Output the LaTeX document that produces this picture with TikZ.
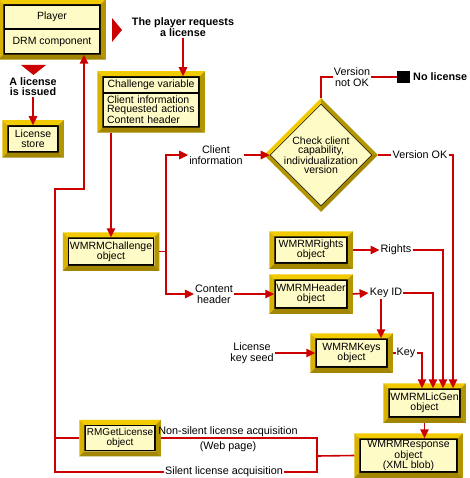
\documentclass[tikz,border=0pt]{standalone}
\usepackage{fontspec}
\setmainfont{Liberation Sans}
\usetikzlibrary{arrows.meta,calc,shapes.geometric}

\definecolor{wred}{HTML}{CC0000}
\definecolor{paper}{HTML}{FFFBC6}
\definecolor{frtop}{HTML}{F2CA00}
\definecolor{frleft}{HTML}{D9B300}
\definecolor{frright}{HTML}{B39500}
\definecolor{frbot}{HTML}{A38600}

% gold bevel round one box (or a stack of two)
\newcommand{\bevel}[2]{%
  \coordinate (o1) at (#1.north west);
  \coordinate (o2) at (#2.south east);
  \coordinate (i1) at ($(o1)+(5,5)$);
  \coordinate (i2) at ($(o2)+(-5,-5)$);
  \fill[frtop] (o1) -- (o1 -| o2) -- (i1 -| i2) -- (i1) -- cycle;
  \fill[frleft] (o1) -- (i1) -- (i1 |- i2) -- (o1 |- o2) -- cycle;
  \fill[frright] (o1 -| o2) -- (o2) -- (i2) -- (i1 -| i2) -- cycle;
  \fill[frbot] (o1 |- o2) -- (i1 |- i2) -- (i2) -- (o2) -- cycle;
}

\begin{document}
\begin{tikzpicture}[x=1pt,y=-1pt,
  >={Triangle[length=9pt,width=8.5pt]},
  txt/.style={font=\fontsize{10.8}{11}\selectfont,align=center,inner sep=1pt},
  note/.style={font=\fontsize{10.8}{10}\selectfont\bfseries,align=center,inner sep=1pt},
  obj/.style={draw=black,fill=paper,line width=1.5pt,inner sep=0pt,outer sep=5.75pt,
    align=center,font=\fontsize{10.5}{10}\selectfont},
  dia/.style={diamond,draw=black,fill=paper,line width=0.6pt,inner sep=0pt,
    minimum width=102pt,minimum height=102pt},
  flow/.style={wred,line width=1.6pt},
  into/.style={flow,->,shorten >=-5pt}]

\useasboundingbox (0,0) rectangle (469,478);
\fill[white] (0,0) rectangle (469,478);

\node[obj,line width=2pt,minimum width=96pt,minimum height=24pt] (player) at (52,17) {Player};
\node[obj,line width=2pt,minimum width=96pt,minimum height=25pt] (drm) at (52,41.5) {DRM component};
\bevel{player}{drm}

\node[obj,minimum width=50pt,minimum height=26pt] (store) at (33,139) {License\\store};
\bevel{store}{store}

\node[obj,minimum width=96pt,minimum height=16pt] (chal) at (151,85) {Challenge variable};
\node[obj,minimum width=96pt,minimum height=34pt,text width=88pt,align=left,
  font=\fontsize{10.5}{9}\selectfont] (chalitems) at (151,110)
  {Client information\\Requested actions\\Content header};
\bevel{chal}{chalitems}

\node[obj,minimum width=85pt,minimum height=27pt] (wchal) at (111,251.5) {WMRMChallenge\\object};
\bevel{wchal}{wchal}

\node[obj,minimum width=72pt,minimum height=26pt] (rights) at (311,250) {WMRMRights\\object};
\bevel{rights}{rights}

\node[obj,minimum width=72pt,minimum height=28pt] (header) at (311,294) {WMRMHeader\\object};
\bevel{header}{header}

\node[obj,minimum width=71pt,minimum height=28pt] (keys) at (351.5,353) {WMRMKeys\\object};
\bevel{keys}{keys}

\node[obj,minimum width=71pt,minimum height=28pt] (licgen) at (424.5,403) {WMRMLicGen\\object};
\bevel{licgen}{licgen}

\node[obj,minimum width=97pt,minimum height=33pt,font=\fontsize{10.5}{8.5}\selectfont] (response) at (408.5,455.5)
  {WMRMResponse\\object\\(XML blob)};
\bevel{response}{response}

\node[obj,minimum width=70pt,minimum height=25pt,font=\fontsize{10}{10}\selectfont] (rmget) at (120,438) {RMGetLicense\\object};
\bevel{rmget}{rmget}

% decision
\node[dia] (check) at (321,155) {};
\coordinate (dn) at ($(check.north)+(0,-5.5)$);
\coordinate (dw) at ($(check.west)+(-5.5,0)$);
\coordinate (de) at ($(check.east)+(5.5,0)$);
\coordinate (ds) at ($(check.south)+(0,5.5)$);
\fill[frtop] (dn) -- (dw) -- (check.west) -- (check.north) -- cycle;
\fill[frright] (dn) -- (de) -- (check.east) -- (check.north) -- cycle;
\fill[frbot] (ds) -- (de) -- (check.east) -- (check.south) -- cycle;
\fill[frright] (ds) -- (dw) -- (check.west) -- (check.south) -- cycle;
\node[align=center,inner sep=0pt,font=\fontsize{10.5}{9.3}\selectfont] (checktxt) at (check)
  {Check client\\capability,\\individualization\\version};

% pointers
\fill[wred] (112,18) -- (122,30) -- (112,42) -- cycle;
\fill[wred] (21,65) -- (46,65) -- (33.5,75) -- cycle;

\node[note] (requests) at (183,27) {The player requests\\a license};
\node[note] (issued) at (33,87) {A license\\is issued};
\node[txt] (clientinfo) at (216,155) {Client\\information};
\node[txt] (contenthdr) at (214,294) {Content\\header};
\node[txt] (notok) at (352,77) {Version\\not OK};
\node[fill=black,inner sep=0pt,minimum width=13pt,minimum height=12pt] (sq) at (403.5,77) {};
\node[note,anchor=west] (nolicense) at (412,77) {No license};
\node[txt] (verok) at (420,155) {Version OK};
\node[txt] (rightslbl) at (396,250) {Rights};
\node[txt] (keyid) at (386,293) {Key ID};
\node[txt] (seed) at (252,353) {License\\key seed};
\node[txt] (keylbl) at (406,353) {Key};
\node[txt] (nonsilent) at (228,432) {Non-silent license acquisition};
\node[txt] (webpage) at (228,447) {(Web page)};
\node[txt] (silent) at (224,472) {Silent license acquisition};

\coordinate (split) at ($(wchal.east)+(7,0)$);
\coordinate (bend1) at (55,189);
\coordinate (bend2) at (84,189);
\coordinate (j) at (317,456);
\coordinate (kin) at ($(keys.north)+(29.5,0)$);
\coordinate (lg1) at ($(licgen.north)+(-2.5,0)$);
\coordinate (lg2) at ($(licgen.north)+(8.5,0)$);
\coordinate (lg3) at ($(licgen.north)+(18.5,0)$);
\coordinate (lg4) at ($(licgen.north)+(28.5,0)$);

\draw[into] (requests.south) -- (requests.south |- chal.north);
\draw[into] (issued.south) -- (store.north);
\draw[into] (wchal.north |- chalitems.south) -- (wchal.north);

\draw[flow] (wchal.east) -- (split);
\draw[flow,->] (split) |- (clientinfo.west);
\draw[flow,->] (split) |- (contenthdr.west);
\draw[flow,->] (clientinfo.east) -- (check.west);
\draw[into] (contenthdr.east) -- (header.west);

\draw[flow] (dn) -- (dn |- notok) -- (notok.west);
\draw[flow] (notok.east) -- (sq.west);
\draw[flow] (de) -- (verok.west);
\draw[into] (verok.east) -| (lg4);

\draw[flow,->] (rights.east) -- (rightslbl.west);
\draw[into] (rightslbl.east) -| (lg3);
\draw[flow,->] (header.east) -- (keyid.west);
\draw[into] (keyid.east) -| (lg2);
\draw[into] (keyid.south -| kin) -- (kin);
\draw[into] (seed.east) -- (keys.west);
\draw[flow] (keys.east) -- (keylbl.west);
\draw[into] (keylbl.east) -| (lg1);

\draw[into] (licgen.south) -- (licgen.south |- response.north);

\draw[flow] (response.west) -- (j);
\draw[flow] (rmget.east) -- (rmget.east -| j) -- (j |- silent) -- (silent.east);
\draw[into] (silent.west) -- (silent -| bend1) -- (bend1) -- (bend2) -- (bend2 |- drm.south);
\draw[flow] (rmget.west) -- (rmget.west -| bend1);

\end{tikzpicture}
\end{document}
